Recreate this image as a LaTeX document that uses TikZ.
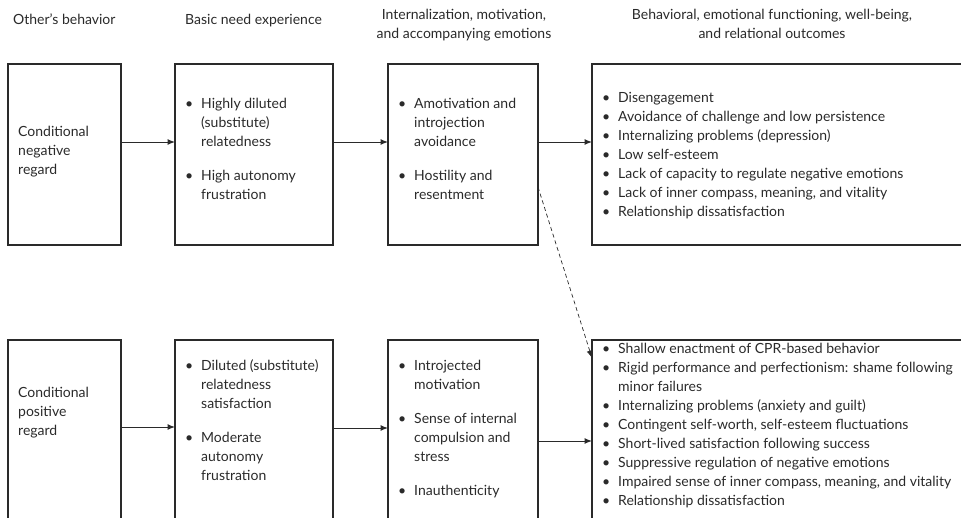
\documentclass[tikz,border=0pt]{standalone}
\usepackage{fontspec}
\setmainfont{Lato}
\usetikzlibrary{arrows.meta}
\definecolor{ink}{HTML}{2A2A2A}
\newcommand{\bpt}{\makebox[24pt][c]{\textbullet}}
\newcommand{\bind}{\hspace*{24pt}}
\tikzset{
  box/.style={draw=ink, line width=1.1pt, inner sep=0pt, outer sep=0pt},
  openbox/.style={inner sep=0pt, outer sep=0pt},
  edge/.style={draw=ink, line width=1.1pt},
  txt/.style={inner sep=0pt, anchor=base west, text=ink,
              font=\fontsize{14}{19}\selectfont},
  head/.style={inner sep=0pt, anchor=base, text=ink,
              font=\fontsize{14}{19}\selectfont},
  arr/.style={draw=ink, line width=1pt, -{Latex[length=7.5pt,width=6pt]}},
  darr/.style={draw=ink, line width=0.7pt, dash pattern=on 4pt off 3pt,
              -{Latex[length=7.5pt,width=6pt]}},
}
\begin{document}
\begin{tikzpicture}[x=1pt,y=-1pt]
\useasboundingbox (0,0) rectangle (961,517);

% column headings
\node[txt] (h1) at (13,24) {Other's behavior};
\node[txt] (h2) at (185,24) {Basic need experience};
\node[head] (h3) at (464,19) {\begin{tabular}[t]{@{}c@{}}Internalization, motivation,\\ and accompanying emotions\end{tabular}};
\node[head] (h4) at (772,19) {\begin{tabular}[t]{@{}c@{}}Behavioral, emotional functioning, well-being,\\ and relational outcomes\end{tabular}};

% upper row: conditional negative regard
\node[box, minimum width=113pt, minimum height=181pt] (b1) at (64.5,154.5) {};
\node[box, minimum width=158pt, minimum height=181pt] (b2) at (254,154.5) {};
\node[box, minimum width=150pt, minimum height=181pt] (b3) at (463,154.5) {};
\node[openbox, minimum width=380pt, minimum height=181pt] (b4) at (782,154.5) {};
\draw[edge] (b4.north east) -- (b4.north west) -- (b4.south west) -- (b4.south east);

% lower row: conditional positive regard (runs past the lower edge)
\node[box, minimum width=113pt, minimum height=220pt] (b5) at (64.5,450) {};
\node[box, minimum width=158pt, minimum height=220pt] (b6) at (254,450) {};
\node[box, minimum width=150pt, minimum height=220pt] (b7) at (463,450) {};
\node[openbox, minimum width=380pt, minimum height=220pt] (b8) at (782,450) {};
\draw[edge] (b8.north east) -- (b8.north west) -- (b8.south west);

% box contents, upper row
\node[txt] (t1) at (18,136.5) {\begin{tabular}[t]{@{}l@{}}Conditional\\ negative\\ regard\end{tabular}};
\node[txt] (t2) at (177,108.5) {\begin{tabular}[t]{@{}l@{}}\bpt Highly diluted\\ \bind(substitute)\\ \bind relatedness\\[15pt] \bpt High autonomy\\ \bind frustration\end{tabular}};
\node[txt] (t3) at (390,108.5) {\begin{tabular}[t]{@{}l@{}}\bpt Amotivation and\\ \bind introjection\\ \bind avoidance\\[15pt] \bpt Hostility and\\ \bind resentment\end{tabular}};
\node[txt] (t4) at (594,102.5) {\begin{tabular}[t]{@{}l@{}}\bpt Disengagement\\ \bpt Avoidance of challenge and low persistence\\ \bpt Internalizing problems (depression)\\ \bpt Low self-esteem\\ \bpt Lack of capacity to regulate negative emotions\\ \bpt Lack of inner compass, meaning, and vitality\\ \bpt Relationship dissatisfaction\end{tabular}};

% box contents, lower row
\node[txt] (t5) at (18,397.5) {\begin{tabular}[t]{@{}l@{}}Conditional\\ positive\\ regard\end{tabular}};
\node[txt] (t6) at (177,370.5) {\begin{tabular}[t]{@{}l@{}}\bpt Diluted (substitute)\\ \bind relatedness\\ \bind satisfaction\\[15pt] \bpt Moderate\\ \bind autonomy\\ \bind frustration\end{tabular}};
\node[txt] (t7) at (390,370.5) {\begin{tabular}[t]{@{}l@{}}\bpt Introjected\\ \bind motivation\\[15pt] \bpt Sense of internal\\ \bind compulsion and\\ \bind stress\\[15pt] \bpt Inauthenticity\end{tabular}};
\node[txt] (t8) at (594,353.5) {\begin{tabular}[t]{@{}l@{}}\bpt Shallow enactment of CPR-based behavior\\ \bpt Rigid performance and perfectionism: shame following\\ \bind minor failures\\ \bpt Internalizing problems (anxiety and guilt)\\ \bpt Contingent self-worth, self-esteem fluctuations\\ \bpt Short-lived satisfaction following success\\ \bpt Suppressive regulation of negative emotions\\ \bpt Impaired sense of inner compass, meaning, and vitality\\ \bpt Relationship dissatisfaction\end{tabular}};

% connectors
\draw[arr] ([yshift=12.5pt]b1.east) -- ([yshift=12.5pt]b2.west);
\draw[arr] ([yshift=12.5pt]b2.east) -- ([yshift=12.5pt]b3.west);
\draw[arr] ([yshift=12.5pt]b3.east) -- ([yshift=12.5pt]b4.west);
\draw[arr] ([yshift=23pt]b5.east) -- ([yshift=23pt]b6.west);
\draw[arr] ([yshift=22pt]b6.east) -- ([yshift=22pt]b7.west);
\draw[arr] ([yshift=9pt]b7.east) -- ([yshift=9pt]b8.west);
\draw[darr] ([yshift=-32.5pt]b3.east) -- ([yshift=92pt]b8.west);
\end{tikzpicture}
\end{document}
